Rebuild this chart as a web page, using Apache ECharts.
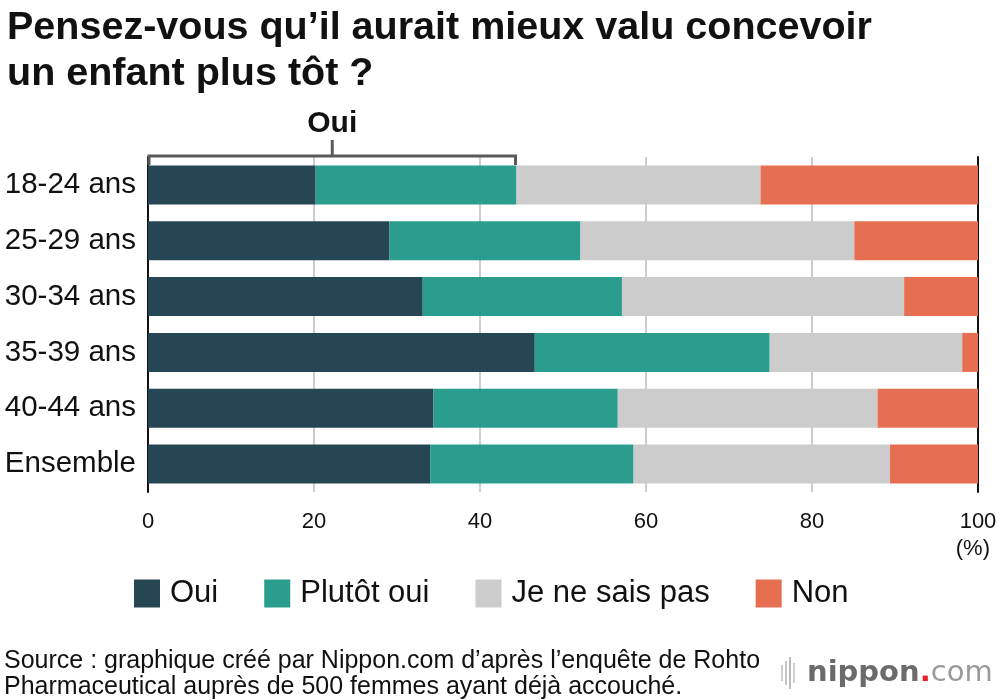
<!DOCTYPE html>
<html>
<head>
<meta charset="utf-8">
<script src="https://cdn.jsdelivr.net/npm/echarts@6/dist/echarts.min.js"></script>
<style>html,body{margin:0;padding:0;background:#fff}#c{width:1000px;height:700px}</style>
</head>
<body>
<div id="c"></div>
<script>
const categories = ['18-24 ans', '25-29 ans', '30-34 ans', '35-39 ans', '40-44 ans', 'Ensemble'];
const oui = [20.2, 29.1, 33.1, 46.6, 34.4, 34.0];
const plutotOui = [24.2, 23.0, 24.0, 28.3, 22.2, 24.5];
const neSaisPas = [29.4, 33.0, 34.0, 23.2, 31.3, 30.9];
const non = [26.2, 14.9, 8.9, 1.9, 12.1, 10.6];
const xTicks = [0, 20, 40, 60, 80, 100];
const seriesNames = ['Oui', 'Plutôt oui', 'Je ne sais pas', 'Non'];
const colors = ['#264653', '#2a9d8f', '#cccccc', '#e76f51'];

const FONT = '"Liberation Sans", Arial, Helvetica, sans-serif';
const chart = echarts.init(document.getElementById('c'), null, {renderer: 'canvas'});

const bracketEnd = oui[0] + plutotOui[0];

const barSeries = [oui, plutotOui, neSaisPas, non].map((d, i) => ({
  name: seriesNames[i],
  type: 'bar',
  stack: 'total',
  data: d,
  barWidth: 39,
  itemStyle: {color: colors[i]},
  emphasis: {disabled: true},
  z: 3
}));

const option = {
  animation: false,
  textStyle: {fontFamily: FONT},
  title: {
    text: 'Pensez-vous qu’il aurait mieux valu concevoir\nun enfant plus tôt ?',
    left: 2, top: 0,
    textStyle: {fontFamily: FONT, fontWeight: 'bold', fontSize: 39.5, lineHeight: 46, color: '#111'}
  },
  grid: {left: 148, right: 22, top: 157, bottom: 208, containLabel: false},
  legend: {
    data: seriesNames,
    left: 134, top: 578, padding: 0,
    itemWidth: 26, itemHeight: 28, itemGap: 46,
    icon: 'rect',
    textStyle: {fontFamily: FONT, fontSize: 31, color: '#111', padding: [0, 0, 0, 5]},
    selectedMode: false
  },
  xAxis: {
    type: 'value', min: 0, max: 100, interval: 20,
    axisLine: {show: false}, axisTick: {show: false},
    axisLabel: {fontFamily: FONT, fontSize: 22, color: '#111', margin: 19,
      formatter: v => xTicks.includes(v) ? String(v) : ''},
    splitLine: {show: true, lineStyle: {color: '#cccccc', width: 2}}
  },
  yAxis: [{
    type: 'category', data: categories, inverse: true,
    axisLine: {show: true, lineStyle: {color: '#111', width: 2}},
    axisTick: {show: false},
    axisLabel: {fontFamily: FONT, fontSize: 29.5, color: '#111', margin: 12, padding: [6, 0, 0, 0]}
  }, {
    type: 'category', data: categories, inverse: true, position: 'right',
    axisLine: {show: true, lineStyle: {color: '#111', width: 2}},
    axisTick: {show: false}, axisLabel: {show: false}, splitLine: {show: false}
  }],
  series: barSeries.concat([{
    type: 'custom',
    name: 'bracket',
    clip: false,
    z: 10,
    silent: true,
    data: [[0, bracketEnd, 0]],
    encode: {x: [0, 1], y: 2},
    renderItem: function (params, api) {
      const c = api.value(2);
      const p0 = api.coord([api.value(0), c]);
      const p1 = api.coord([api.value(1), c]);
      const band = api.size([0, 1])[1];
      const yTop = p0[1] - band / 2 - 1;
      const yDown = p0[1] - 20;
      const mid = (p0[0] + p1[0]) / 2;
      const style = {stroke: '#5a5a5a', lineWidth: 3, fill: null};
      return {
        type: 'group',
        children: [
          {type: 'polyline', shape: {points: [[p0[0] + 1, yDown], [p0[0] + 1, yTop], [p1[0] - 1, yTop], [p1[0] - 1, yDown]]}, style: style},
          {type: 'line', shape: {x1: mid, y1: yTop, x2: mid, y2: yTop - 16}, style: style},
          {type: 'text', x: mid, y: yTop - 32, style: {text: seriesNames[0], fontFamily: FONT, fontWeight: 'bold', fontSize: 30, fill: '#111', align: 'center', verticalAlign: 'middle'}}
        ]
      };
    }
  }]),
  graphic: [
    {type: 'text', right: 10, top: 538, style: {text: '(%)', fontFamily: FONT, fontSize: 22, fill: '#111'}},
    {type: 'text', left: 4, top: 648, style: {text: 'Source : graphique créé par Nippon.com d’après l’enquête de Rohto\nPharmaceutical auprès de 500 femmes ayant déjà accouché.', fontFamily: FONT, fontSize: 25, lineHeight: 26, fill: '#111'}},
    {type: 'group', left: 781, top: 657, children: [
      {type: 'rect', shape: {x: 0, y: 8, width: 2, height: 16}, style: {fill: '#cfcfcf'}},
      {type: 'rect', shape: {x: 4, y: 4, width: 2, height: 24}, style: {fill: '#c4c4c4'}},
      {type: 'rect', shape: {x: 8, y: 0, width: 2, height: 32}, style: {fill: '#bbbbbb'}},
      {type: 'rect', shape: {x: 12, y: 6, width: 2, height: 20}, style: {fill: '#cfcfcf'}},
      {type: 'text', x: 26, y: 16, style: {
        text: '{a|nippon}{b|.}{c|com}', verticalAlign: 'middle',
        rich: {
          a: {fontFamily: '"DejaVu Sans", sans-serif', fontWeight: 'bold', fontSize: 29, fill: '#6b6b6b'},
          b: {fontFamily: '"DejaVu Sans", sans-serif', fontWeight: 'bold', fontSize: 29, fill: '#e8202a'},
          c: {fontFamily: '"DejaVu Sans", sans-serif', fontWeight: 'normal', fontSize: 29, fill: '#9a9a9a'}
        }
      }}
    ]}
  ]
};
chart.setOption(option);
</script>
</body>
</html>
